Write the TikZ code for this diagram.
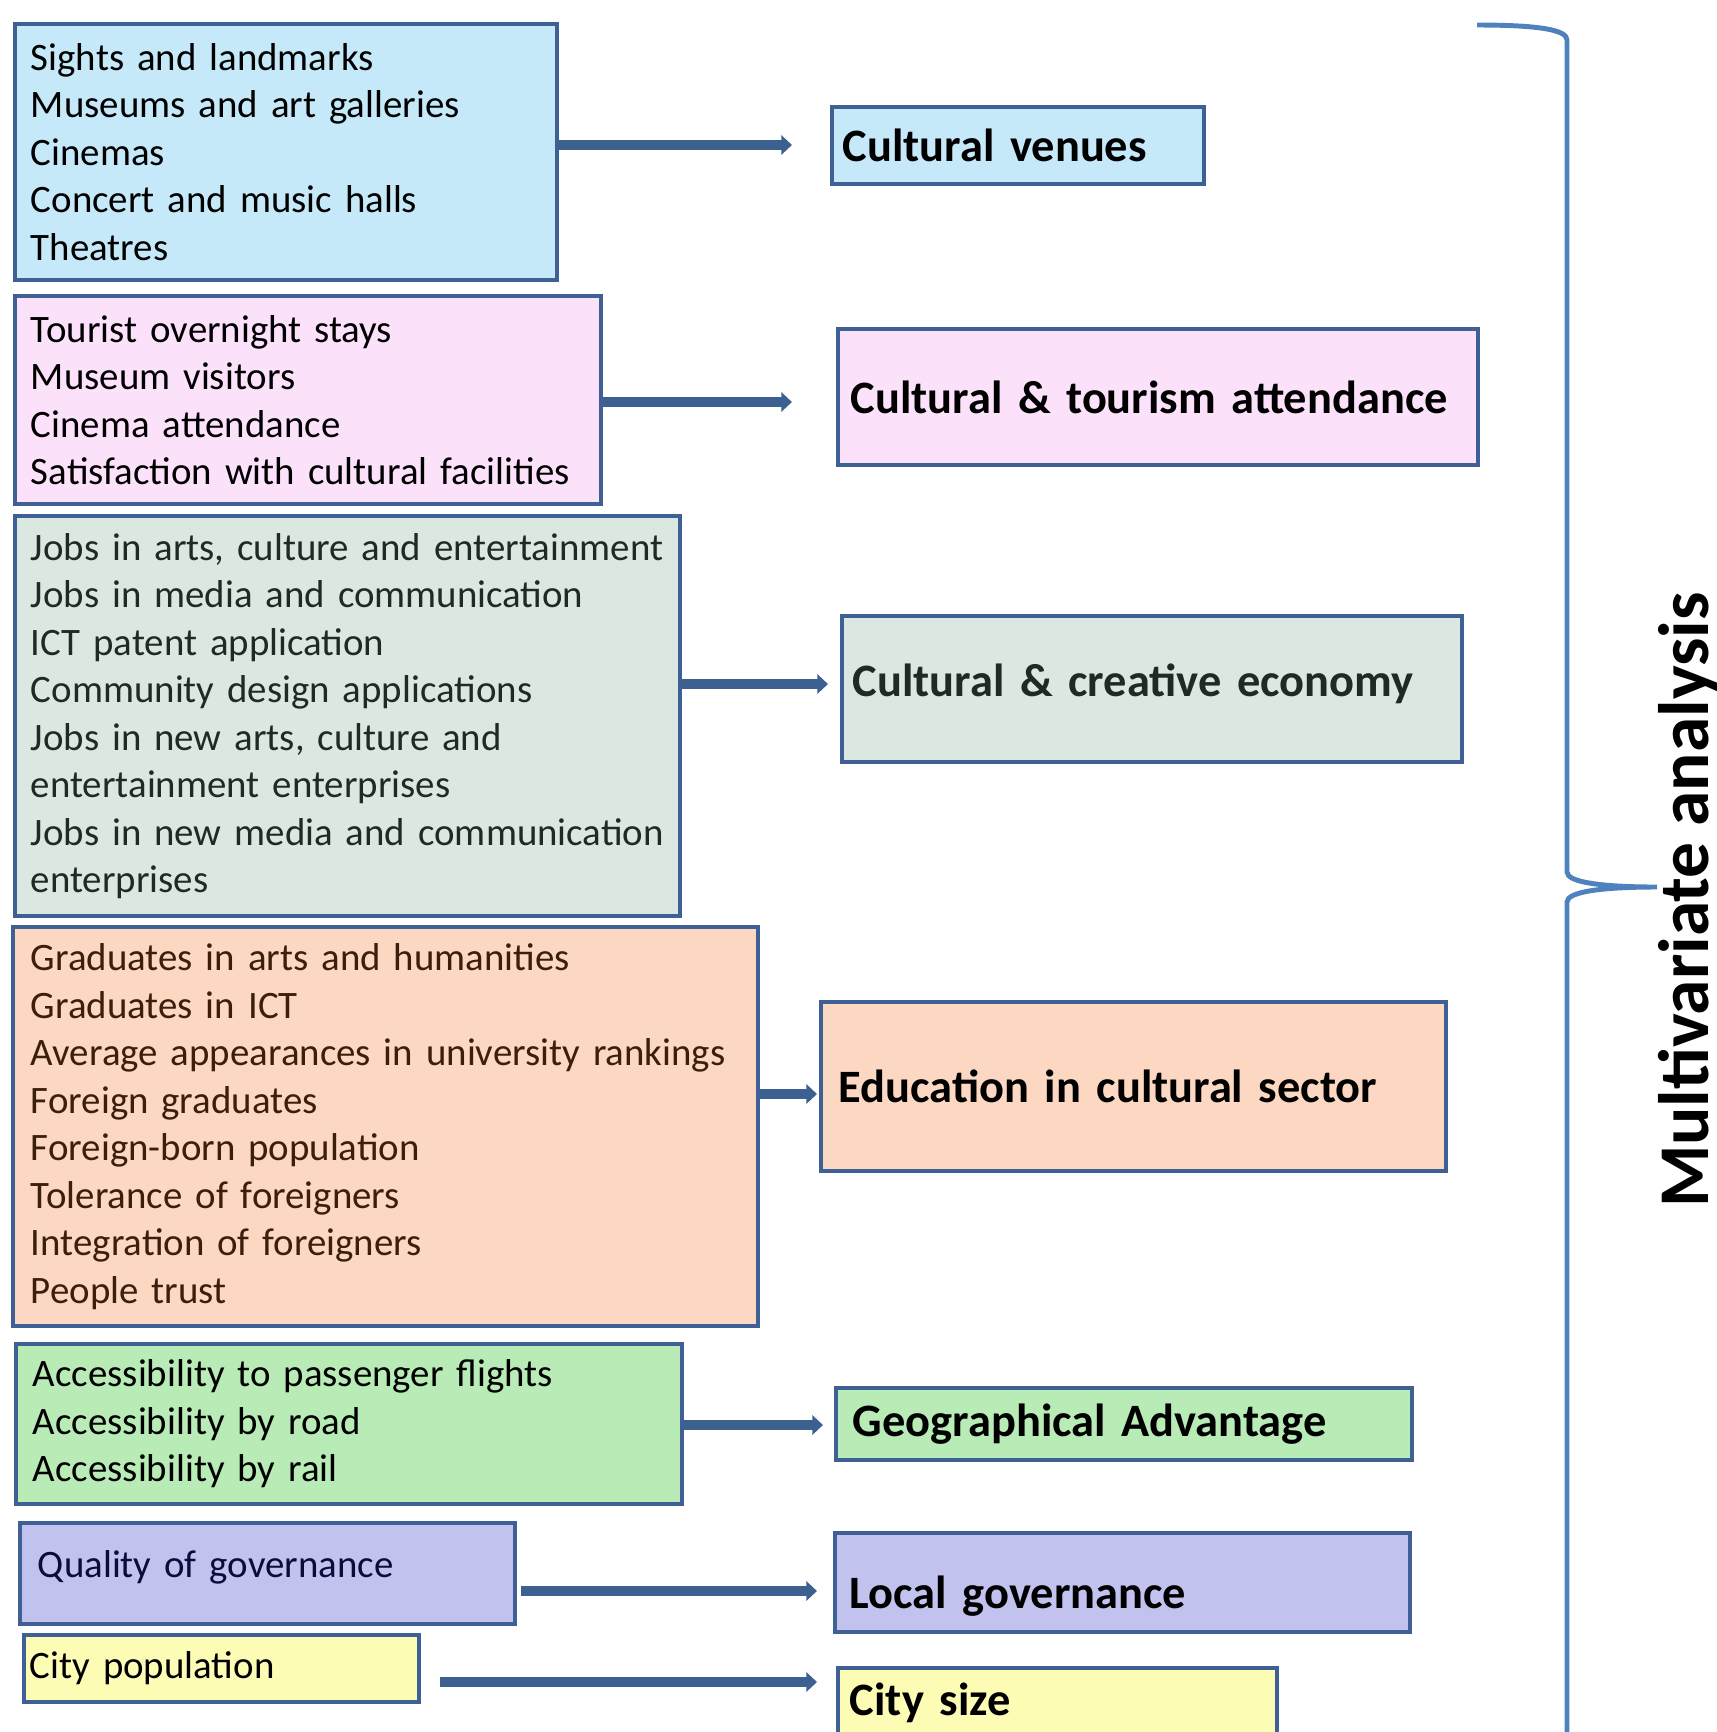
\documentclass[tikz,border=0pt]{standalone}
\usepackage{fontspec}
\setmainfont{Carlito}
\usetikzlibrary{arrows.meta, positioning}
\hyphenpenalty=10000
\exhyphenpenalty=10000

\definecolor{edgeblue}{HTML}{3F6095}
\definecolor{arrowblue}{HTML}{3C6090}
\definecolor{braceblue}{HTML}{4F81BD}
\definecolor{venuefill}{HTML}{C5E9F8}
\definecolor{tourfill}{HTML}{FCE1FA}
\definecolor{econfill}{HTML}{DAE8E1}
\definecolor{econtext}{HTML}{1E2B22}
\definecolor{edufill}{HTML}{FCD7C1}
\definecolor{edutext}{HTML}{3C1E0C}
\definecolor{geofill}{HTML}{B8EBB6}
\definecolor{govfill}{HTML}{C2C2EF}
\definecolor{govtext}{HTML}{0B0B3C}
\definecolor{sizefill}{HTML}{FDFCB5}

\tikzset{
  lbox/.style={draw=edgeblue, line width=1.1pt, align=left, anchor=north west,
    inner ysep=0pt, font=\fontsize{11.05}{13.5}\selectfont},
  rbox/.style={draw=edgeblue, line width=1.1pt, align=left, anchor=north west,
    inner ysep=0pt, font=\fontsize{13.2}{16}\selectfont\bfseries},
  arr/.style={draw=arrowblue, line width=2.7pt, -{Triangle[length=3pt,width=5.4pt]}}
}

\begin{document}
\begin{tikzpicture}[x=0.01cm,y=-0.01cm]
\useasboundingbox (0,0) rectangle (1717,1732);
\clip (0,0) rectangle (1717,1732);
%left boxes
\node[lbox, fill=venuefill, text width=5.10cm, inner xsep=0.16cm, minimum height=2.56cm] (l1) at (13,22)
  {Sights and landmarks\\Museums and art galleries\\Cinemas\\Concert and music halls\\Theatres};
\node[lbox, fill=tourfill, text width=5.54cm, inner xsep=0.16cm, minimum height=2.08cm] (l2) at (13,294)
  {Tourist overnight stays\\Museum visitors\\Cinema attendance\\Satisfaction with cultural facilities};
\node[lbox, fill=econfill, text=econtext, text width=6.33cm, inner xsep=0.16cm, minimum height=4.00cm] (l3) at (13,514)
  {Jobs in arts, culture and entertainment\\Jobs in media and communication\\ICT patent application\\Community design applications\\Jobs in new arts, culture and\\entertainment enterprises\\Jobs in new media and communication\\enterprises};
\node[lbox, fill=edufill, text=edutext, text width=7.09cm, inner xsep=0.18cm, minimum height=3.99cm] (l4) at (11,925)
  {Graduates in arts and humanities\\Graduates in ICT\\Average appearances in university rankings\\Foreign graduates\\Foreign-born population\\Tolerance of foreigners\\Integration of foreigners\\People trust};
\node[lbox, fill=geofill, text width=6.32cm, inner xsep=0.17cm, minimum height=1.60cm] (l5) at (14,1342)
  {Accessibility to passenger flights\\Accessibility by road\\Accessibility by rail};
\node[lbox, fill=govfill, text=govtext, text width=4.59cm, inner xsep=0.18cm, minimum height=1.01cm, text depth=5.3pt] (l6) at (18,1521)
  {Quality of governance};
\node[lbox, fill=sizefill, text width=3.83cm, inner xsep=0.06cm, minimum height=0.67cm] (l7) at (22,1633)
  {City population};
%right boxes
\node[rbox, fill=venuefill, text width=3.50cm, inner xsep=0.11cm, minimum height=0.77cm] (r1) at (830,105)
  {Cultural venues};
\node[rbox, fill=tourfill, text width=6.14cm, inner xsep=0.13cm, minimum height=1.36cm] (r2) at (836,327)
  {Cultural \& tourism attendance};
\node[rbox, fill=econfill, text=econtext, text width=5.98cm, inner xsep=0.11cm, minimum height=1.46cm, text depth=4.8pt] (r3) at (840,614)
  {Cultural \& creative economy};
\node[rbox, fill=edufill, text width=5.89cm, inner xsep=0.18cm, minimum height=1.69cm] (r4) at (819,1000)
  {Education in cultural sector};
\node[rbox, fill=geofill, text width=5.42cm, inner xsep=0.17cm, minimum height=0.72cm] (r5) at (834,1386)
  {Geographical Advantage};
\node[rbox, fill=govfill, text width=5.45cm, inner xsep=0.15cm, minimum height=0.99cm, text height=14.8pt, text depth=0pt] (r6) at (833,1531)
  {Local governance};
\node[rbox, fill=sizefill, text width=4.15cm, inner xsep=0.12cm, minimum height=0.90cm, text depth=8pt] (r7) at (836,1666)
  {City size};
%arrows from the indicators to the dimensions
\draw[arr, shorten >=3.8mm] (l1.east |- 0,145) -- (r1.west |- 0,145);
\draw[arr, shorten >=4.4mm] (l2.east |- 0,402) -- (r2.west |- 0,402);
\draw[arr, shorten >=1.2mm] (l3.east |- 0,684) -- (r3.west |- 0,684);
\draw[arr, shorten >=0.2mm] (l4.east |- 0,1094) -- (r4.west |- 0,1094);
\draw[arr, shorten >=1.1mm] (l5.east |- 0,1425) -- (r5.west |- 0,1425);
\draw[arr, shorten <=0.4mm, shorten >=1.6mm] (l6.east |- 0,1591) -- (r6.west |- 0,1591);
\draw[arr, shorten <=1.9mm, shorten >=1.9mm] (l7.east |- 0,1682) -- (r7.west |- 0,1682);
%brace and its label
\draw[braceblue, line width=1.4pt] (1477,25) .. controls (1540,25) and (1567,30) .. (1567,40)
  -- (1567,872) .. controls (1567,882) and (1600,887) .. (1657,887)
  .. controls (1600,887) and (1567,892) .. (1567,902) -- (1567,1760);
\node[rotate=90, font=\fontsize{20.3}{24}\selectfont\bfseries, inner sep=0pt] (multi) at (1689,900) {Multivariate analysis};
\end{tikzpicture}
\end{document}
